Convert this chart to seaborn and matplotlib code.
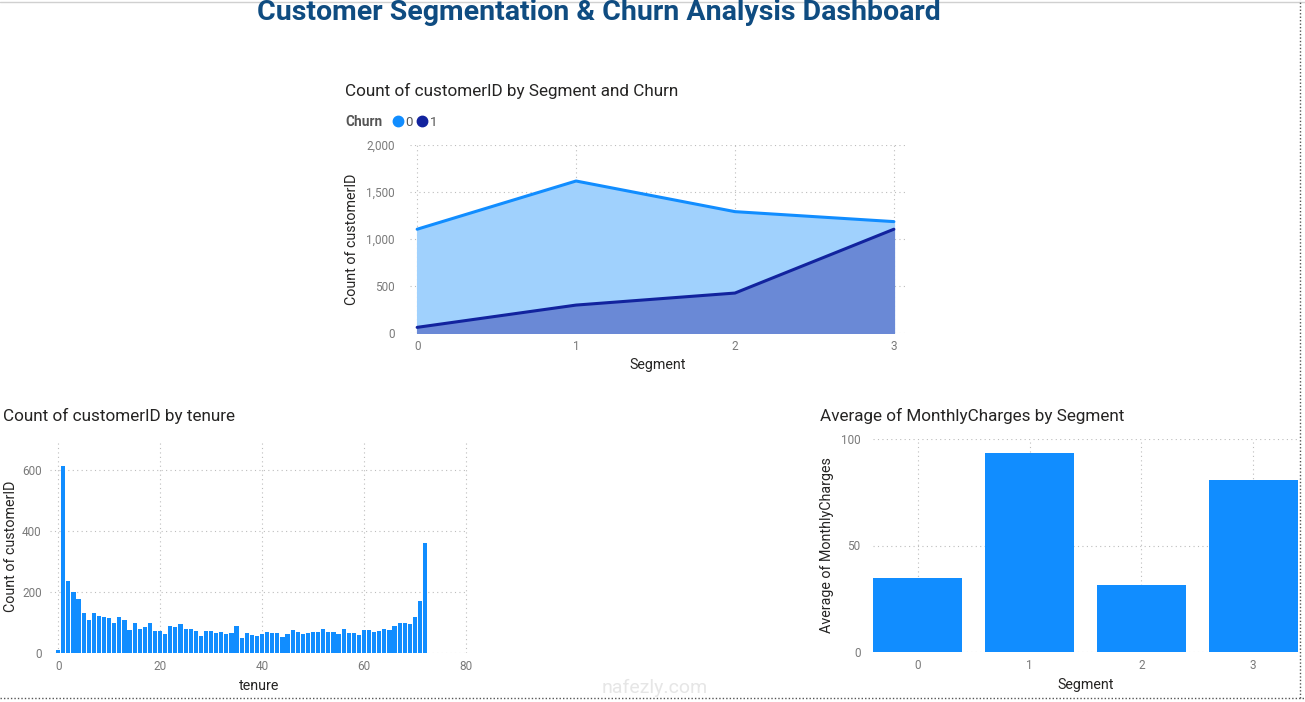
import numpy as np
import pandas as pd
import matplotlib
matplotlib.use("Agg")
import matplotlib.pyplot as plt
import seaborn as sns
from matplotlib.lines import Line2D

segments = [0, 1, 2, 3]
churn0_counts = [1104, 1617, 1291, 1185]
churn1_counts = [60, 297, 425, 1104]

tenure = list(range(0, 73))
tenure_counts = [11, 613, 238, 200, 176, 133, 110, 131, 123, 119, 116, 99, 117, 109,
                 76, 99, 80, 87, 97, 73, 71, 63, 90, 85, 94, 79, 79, 72, 57, 72, 72,
                 65, 69, 64, 65, 88, 50, 65, 59, 56, 64, 70, 65, 65, 51, 61, 74, 68,
                 64, 66, 68, 68, 80, 70, 68, 64, 80, 65, 67, 60, 76, 76, 70, 72, 80,
                 76, 89, 98, 100, 95, 119, 170, 362]

avg_monthly = [34.7, 93.2, 31.6, 80.8]

BLUE = "#118DFF"
NAVY = "#12239E"
TICK = "#7A7A7A"
LABEL = "#252423"

sns.set_theme(style="white")
plt.rcParams["font.family"] = ["Roboto", "DejaVu Sans"]

W, H = 1305, 702
fig = plt.figure(figsize=(W / 100, H / 100), dpi=100)


def px_axes(x0, y0, x1, y1):
    return fig.add_axes([x0 / W, 1 - y1 / H, (x1 - x0) / W, (y1 - y0) / H])


def style_axes(ax, ypad=8):
    for s in ax.spines.values():
        s.set_visible(False)
    ax.tick_params(length=0, labelsize=8.5, colors=TICK)
    ax.tick_params(axis="y", pad=ypad)
    ax.tick_params(axis="x", pad=5)
    ax.grid(True, linestyle=(0, (1, 3)), color="#BDBDBD", linewidth=0.8)
    ax.set_axisbelow(True)


# --- Área: Segment x Churn
ax1 = px_axes(410, 145, 905, 333)
df_area = pd.DataFrame({
    "Segment": segments * 2,
    "Count": churn0_counts + churn1_counts,
    "Churn": ["0"] * 4 + ["1"] * 4,
})
ax1.fill_between(segments, churn0_counts, color="#A0D1FD", zorder=1)
ax1.fill_between(segments, churn1_counts, color="#6A89D6", zorder=2)
sns.lineplot(data=df_area, x="Segment", y="Count", hue="Churn",
             palette={"0": BLUE, "1": NAVY}, linewidth=2.2, ax=ax1,
             legend=False, zorder=3)
style_axes(ax1, ypad=11)
ax1.set_xlim(-0.045, 3.07)
ax1.set_ylim(0, 2000)
ax1.set_xticks(segments)
ax1.set_yticks([0, 500, 1000, 1500, 2000])
ax1.set_yticklabels(["0", "500", "1,000", "1,500", "2,000"])
ax1.set_xlabel("Segment", fontsize=10.3, color=LABEL)
ax1.set_ylabel("Count of customerID", fontsize=10.3, color=LABEL)
ax1.xaxis.set_label_coords(0.5, -0.135)
ax1.yaxis.set_label_coords(-0.103, 0.5)

fig.text(345 / W, 1 - 91 / H, "Count of customerID by Segment and Churn",
         fontsize=12.3, color=LABEL, va="center", ha="left")
fig.text(345 / W, 1 - 122 / H, "Churn", fontsize=9.8, color="#555555",
         fontweight="bold", va="center", ha="left")
handles = [Line2D([], [], marker="o", linestyle="", color=BLUE, markersize=7.5),
           Line2D([], [], marker="o", linestyle="", color=NAVY, markersize=7.5)]
fig.legend(handles, ["0", "1"], loc="center left",
           bbox_to_anchor=(380 / W, 1 - 122 / H), ncol=2, frameon=False,
           handletextpad=0.05, columnspacing=0.2, handlelength=1.0,
           fontsize=9.5, labelcolor="#555555")

# --- Histograma: tenure
ax2 = px_axes(50, 440, 468.5, 653)
sns.barplot(x=tenure, y=tenure_counts, native_scale=True, color=BLUE,
            width=0.82, saturation=1, linewidth=0, edgecolor="none", ax=ax2)
style_axes(ax2, ypad=6)
ax2.set_xlim(-1.6, 80.5)
ax2.set_ylim(0, 700)
ax2.set_xticks([0, 20, 40, 60, 80])
ax2.set_yticks([0, 200, 400, 600])
ax2.set_xlabel("tenure", fontsize=10.3, color=LABEL)
ax2.set_ylabel("Count of customerID", fontsize=10.3, color=LABEL)
ax2.xaxis.set_label_coords(0.5, -0.122)
ax2.yaxis.set_label_coords(-0.077, 0.5)
fig.text(3 / W, 1 - 416 / H, "Count of customerID by tenure",
         fontsize=12.3, color=LABEL, va="center", ha="left")

# --- Barras: média MonthlyCharges
ax3 = px_axes(873, 439, 1298, 652)
sns.barplot(x=segments, y=avg_monthly, color=BLUE, width=0.8,
            saturation=1, linewidth=0, edgecolor="none", ax=ax3)
style_axes(ax3, ypad=9)
ax3.set_xlim(-0.4, 3.4)
ax3.set_ylim(0, 100)
ax3.set_yticks([0, 50, 100])
ax3.set_xlabel("Segment", fontsize=10.3, color=LABEL)
ax3.set_ylabel("Average of MonthlyCharges", fontsize=10.3, color=LABEL)
ax3.xaxis.set_label_coords(0.5, -0.122)
ax3.yaxis.set_label_coords(-0.092, 0.5)
fig.text(820 / W, 1 - 416 / H, "Average of MonthlyCharges by Segment",
         fontsize=12.3, color=LABEL, va="center", ha="left")

# --- Título geral
fig.text(599 / W, 1 - 12 / H, "Customer Segmentation & Churn Analysis Dashboard",
         fontsize=20.5, fontweight="bold", color="#0F4C81", ha="center", va="center")

# marca d'água
fig.text(655 / W, 1 - 688 / H, "nafezly.com", fontsize=14, color="#E6E6E6",
         ha="center", va="center")

# bordas do painel
fig.add_artist(Line2D([0, 1], [1 - 2 / H, 1 - 2 / H], color="#D0D0D0", linewidth=1))
fig.add_artist(Line2D([0, 1], [1 - 698 / H, 1 - 698 / H], color="#555555",
                      linewidth=1, linestyle=(0, (1, 1.5))))
fig.add_artist(Line2D([1300 / W, 1300 / W], [1 - 698 / H, 1], color="#555555",
                      linewidth=1, linestyle=(0, (1, 1.5))))

fig.savefig("out.png", dpi=100)
